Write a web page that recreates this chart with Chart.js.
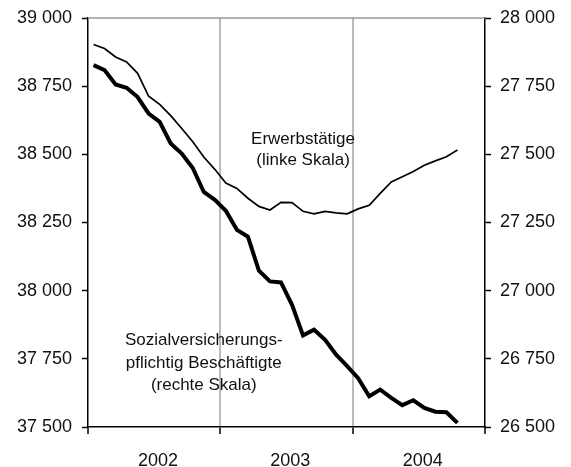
<!DOCTYPE html>
<html>
<head>
<meta charset="utf-8">
<script src="https://cdn.jsdelivr.net/npm/chart.js@4"></script>
<style>
  html, body { margin: 0; padding: 0; background: #fff; }
  #wrap { width: 571px; height: 467px; }
</style>
</head>
<body>
<div id="wrap"><canvas id="chart" width="571" height="467"></canvas></div>
<script>
// Monthly values, Jan 2002 - Oct 2004 (in thousands)
const years = ['2002', '2003', '2004'];
const erwerbstaetige = [
  38903, 38888, 38857, 38839, 38797, 38713, 38683, 38642, 38595, 38546, 38490, 38445,
  38395, 38375, 38339, 38309, 38296, 38324, 38323, 38291, 38282, 38291, 38285, 38282,
  38300, 38313, 38357, 38399, 38418, 38437, 38460, 38476, 38491, 38516
];
const sozialversichert = [
  27827, 27809, 27756, 27744, 27710, 27649, 27619, 27540, 27503, 27450, 27362, 27333,
  27293, 27223, 27198, 27073, 27034, 27030, 26948, 26836, 26857, 26820, 26765, 26723,
  26679, 26613, 26637, 26607, 26580, 26598, 26570, 26556, 26554, 26515
];
const leftTicks = [37500, 39000];
const rightTicks = [26500, 28000];

const FONT = '"Liberation Sans", Arial, sans-serif';
const fmt = v => String(v).replace(/\B(?=(\d{3})+(?!\d))/g, ' ');
const monthPoints = arr => arr.map((v, i) => ({ x: i + 0.5, y: v }));
const LABEL_AT = 6.35; // year label sits a bit right of mid-year

// text labels next to the lines
const labelPlugin = {
  id: 'labels',
  afterDatasetsDraw(chart) {
    const { ctx, scales } = chart;
    ctx.save();
    ctx.fillStyle = '#111';
    ctx.font = '17px ' + FONT;
    ctx.textAlign = 'center';
    ctx.textBaseline = 'middle';
    const x1 = scales.x.getPixelForValue(19.5);
    ctx.fillText('Erwerbstätige', x1, scales.yL.getPixelForValue(38556));
    ctx.fillText('(linke Skala)', x1, scales.yL.getPixelForValue(38477));
    const x2 = scales.x.getPixelForValue(10.5);
    ctx.fillText('Sozialversicherungs-', x2, scales.yR.getPixelForValue(26817));
    ctx.fillText('pflichtig Beschäftigte', x2, scales.yR.getPixelForValue(26735));
    ctx.fillText('(rechte Skala)', x2, scales.yR.getPixelForValue(26653));
    // grey top frame line
    const a = chart.chartArea;
    ctx.strokeStyle = '#999';
    ctx.lineWidth = 1.5;
    ctx.beginPath();
    ctx.moveTo(a.left, a.top);
    ctx.lineTo(a.right, a.top);
    ctx.stroke();
    ctx.restore();
  }
};

new Chart(document.getElementById('chart'), {
  type: 'line',
  data: {
    datasets: [{
      label: 'Erwerbstätige',
      data: monthPoints(erwerbstaetige),
      yAxisID: 'yL',
      borderColor: '#000',
      borderWidth: 1.7,
      pointRadius: 0,
      tension: 0
    }, {
      label: 'Sozialversicherungspflichtig Beschäftigte',
      data: monthPoints(sozialversichert),
      yAxisID: 'yR',
      borderColor: '#000',
      borderWidth: 4,
      pointRadius: 0,
      tension: 0
    }]
  },
  options: {
    responsive: false,
    animation: false,
    layout: { padding: { top: 18, right: 0, bottom: 0, left: 0 } },
    plugins: { legend: { display: false }, tooltip: { enabled: false } },
    scales: {
      x: {
        type: 'linear',
        min: 0,
        max: years.length * 12,
        afterBuildTicks: s => {
          const t = [];
          years.forEach((y, i) => {
            t.push({ value: i * 12 });
            t.push({ value: i * 12 + LABEL_AT });
          });
          t.push({ value: years.length * 12 });
          s.ticks = t;
        },
        afterFit: s => { s.height = 40; },
        border: { color: '#000', width: 1.5 },
        grid: {
          color: c => (c.tick && c.tick.value % 12 === 0 && c.tick.value > 0 && c.tick.value < years.length * 12) ? '#bbb' : 'rgba(0,0,0,0)',
          lineWidth: 2,
          tickColor: c => (c.tick && c.tick.value % 12 === 0) ? '#000' : 'rgba(0,0,0,0)',
          tickLength: 7,
          tickWidth: 1.5
        },
        ticks: {
          autoSkip: false,
          maxRotation: 0,
          color: '#111',
          font: { family: FONT, size: 18 },
          padding: 16,
          callback: v => (v % 12 !== 0 ? years[Math.floor(v / 12)] : '')
        }
      },
      yL: {
        position: 'left',
        min: leftTicks[0],
        max: leftTicks[1],
        afterFit: s => { s.width = 88; s.paddingTop = 0; s.paddingBottom = 0; },
        border: { color: '#000', width: 1.5 },
        grid: { drawOnChartArea: false, tickColor: '#000', tickLength: 6, tickWidth: 1.5 },
        ticks: {
          stepSize: 250,
          color: '#111',
          padding: 10,
          font: { family: FONT, size: 18, lineHeight: 1 },
          callback: v => fmt(v)
        }
      },
      yR: {
        position: 'right',
        min: rightTicks[0],
        max: rightTicks[1],
        afterFit: s => { s.width = 86; s.paddingTop = 0; s.paddingBottom = 0; },
        border: { color: '#000', width: 1.5 },
        grid: { drawOnChartArea: false, tickColor: '#000', tickLength: 6, tickWidth: 1.5 },
        ticks: {
          stepSize: 250,
          color: '#111',
          padding: 9,
          font: { family: FONT, size: 18, lineHeight: 1 },
          callback: v => fmt(v)
        }
      }
    }
  },
  plugins: [labelPlugin]
});
</script>
</body>
</html>
